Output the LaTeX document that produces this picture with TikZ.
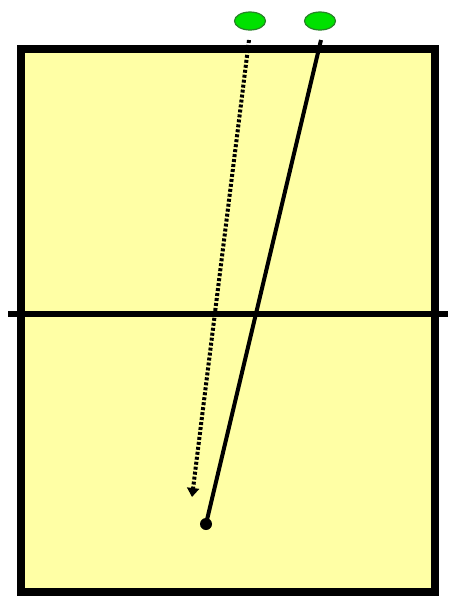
\documentclass[tikz,border=0pt]{standalone}
\usepackage{tikz}
\usetikzlibrary{arrows.meta,positioning,shapes.geometric}
\definecolor{courtyellow}{RGB}{255,255,165}
\definecolor{playergreen}{RGB}{0,225,0}
\definecolor{playeredge}{RGB}{40,130,40}

\begin{document}
\begin{tikzpicture}[x=1pt,y=-1pt,
    player/.style={ellipse, draw=playeredge, fill=playergreen, line width=1.2pt,
      minimum width=31pt, minimum height=18pt, inner sep=0pt},
    ballpath/.style={line width=4pt}]
    \useasboundingbox (0,0) rectangle (455,603);
    % court
    \draw[line width=8.5pt, fill=courtyellow] (21,49) rectangle (435,592);
    % net
    \draw[line width=5.5pt] (8,314) -- (448,314);
    % players behind the end line
    \node[player] (setter) at (250,21) {};
    \node[player] (hitter) at (320,21) {};
    % landing spot of the attack
    \node[circle, fill=black, inner sep=0pt, minimum size=12pt] (land) at (206,524) {};
    \coordinate (passstart) at (249,40);
    \coordinate (passend) at (192,497);
    \coordinate (hitstart) at (321,40);
    % attack: solid
    \draw[ballpath] (hitstart) -- (land.center);
    % pass: dotted, ends in a tip
    \draw[ballpath, dash pattern=on 3pt off 2pt, -{Triangle[length=9pt,width=12pt]}] (passstart) -- (passend);
  \end{tikzpicture}
\end{document}
